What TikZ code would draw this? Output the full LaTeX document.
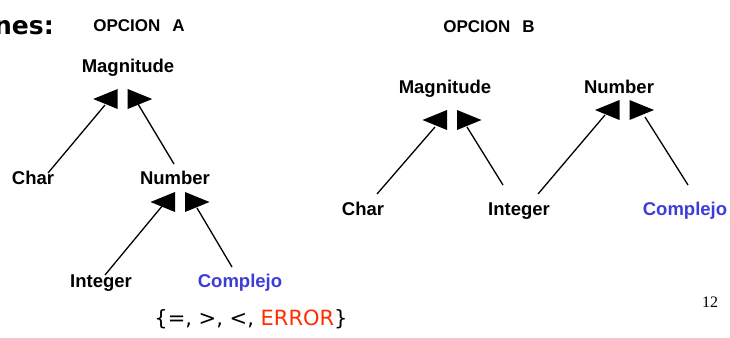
\documentclass[tikz,border=0pt]{standalone}
\usepackage{fontspec}
\setmainfont{Liberation Sans}
\newfontfamily\bracefont{DejaVu Sans}
\newfontfamily\numfont{Liberation Serif}
\newfontfamily\titlefont{DejaVu Sans}
\definecolor{cblue}{RGB}{60,60,215}
\definecolor{cred}{RGB}{255,45,0}
\begin{document}
\begin{tikzpicture}[x=1pt,y=-1pt,
  lbl/.style={font=\fontsize{18.5}{22}\selectfont\bfseries, inner sep=0pt, anchor=base},
  ttl/.style={font=\fontsize{17}{20}\selectfont\bfseries, inner sep=0pt, anchor=base},
  conn/.style={line width=1.3pt},
  head/.style={fill=black}]
\useasboundingbox (0,0) rectangle (730,337);
% title fragment
\node[anchor=base east, inner sep=0pt, font=\titlefont\fontsize{25}{28}\selectfont\bfseries] (ttl) at (54,35) {nes:};
\node[ttl] (oa) at (139,32) {OPCION\hspace{0.7em}A};
\node[ttl] (ob) at (489,33) {OPCION\hspace{0.7em}B};
% Option A nodes
\node[lbl] (magA) at (128,72.5) {Magnitude};
\node[lbl] (charA) at (33,184.5) {Char};
\node[lbl] (numA) at (175,184.5) {Number};
\node[lbl] (intA) at (101,287.5) {Integer};
\node[lbl, text=cblue] (comA) at (240,287.5) {Complejo};
% Option B nodes
\node[lbl] (magB) at (445,93.5) {Magnitude};
\node[lbl] (numB) at (619,93.5) {Number};
\node[lbl] (charB) at (363,215.5) {Char};
\node[lbl] (intB) at (519,215.5) {Integer};
\node[lbl, text=cblue] (comB) at (685,215.5) {Complejo};
% set and page number
\node[inner sep=0pt, anchor=base, font=\bracefont\fontsize{21}{24}\selectfont] (set) at (251,325) {\{=, >, <, \textcolor{cred}{ERROR}\}};
\node[inner sep=0pt, font=\numfont\fontsize{16}{18}\selectfont] (pg) at (710,302) {12};
% arrowhead pairs: \heads{name}{cx}{ytop}
\newcommand{\heads}[3]{%
  \fill[head] (#2-5,#3) -- (#2-5,#3+20) -- (#2-29.5,#3+10) -- cycle;
  \fill[head] (#2+5,#3) -- (#2+5,#3+20) -- (#2+29.5,#3+10) -- cycle;
}
\heads{hMagA}{122.7}{89}
\heads{hNumA}{180}{192}
\heads{hMagB}{452}{110}
\heads{hNumB}{624.5}{100}
% connector start points near the child labels
\coordinate (cA1) at (48,173);
\coordinate (nA1) at (174,164);
\coordinate (iA1) at (105,275);
\coordinate (kA1) at (232,267);
\coordinate (cB1) at (377,194);
\coordinate (iB1) at (503,185);
\coordinate (iB2) at (538,194);
\coordinate (kB1) at (688,185);
\coordinate (mA1) at (105,105);
\coordinate (mA2) at (138,104);
\coordinate (nA2) at (163,205);
\coordinate (nA3) at (197,208);
\coordinate (mB1) at (435,127);
\coordinate (mB2) at (467,127);
\coordinate (nB1) at (605,115);
\coordinate (nB2) at (645,117);
\draw[conn] (cA1) -- (mA1);
\draw[conn] (nA1) -- (mA2);
\draw[conn] (iA1) -- (nA2);
\draw[conn] (kA1) -- (nA3);
\draw[conn] (cB1) -- (mB1);
\draw[conn] (iB1) -- (mB2);
\draw[conn] (iB2) -- (nB1);
\draw[conn] (kB1) -- (nB2);
\end{tikzpicture}
\end{document}
